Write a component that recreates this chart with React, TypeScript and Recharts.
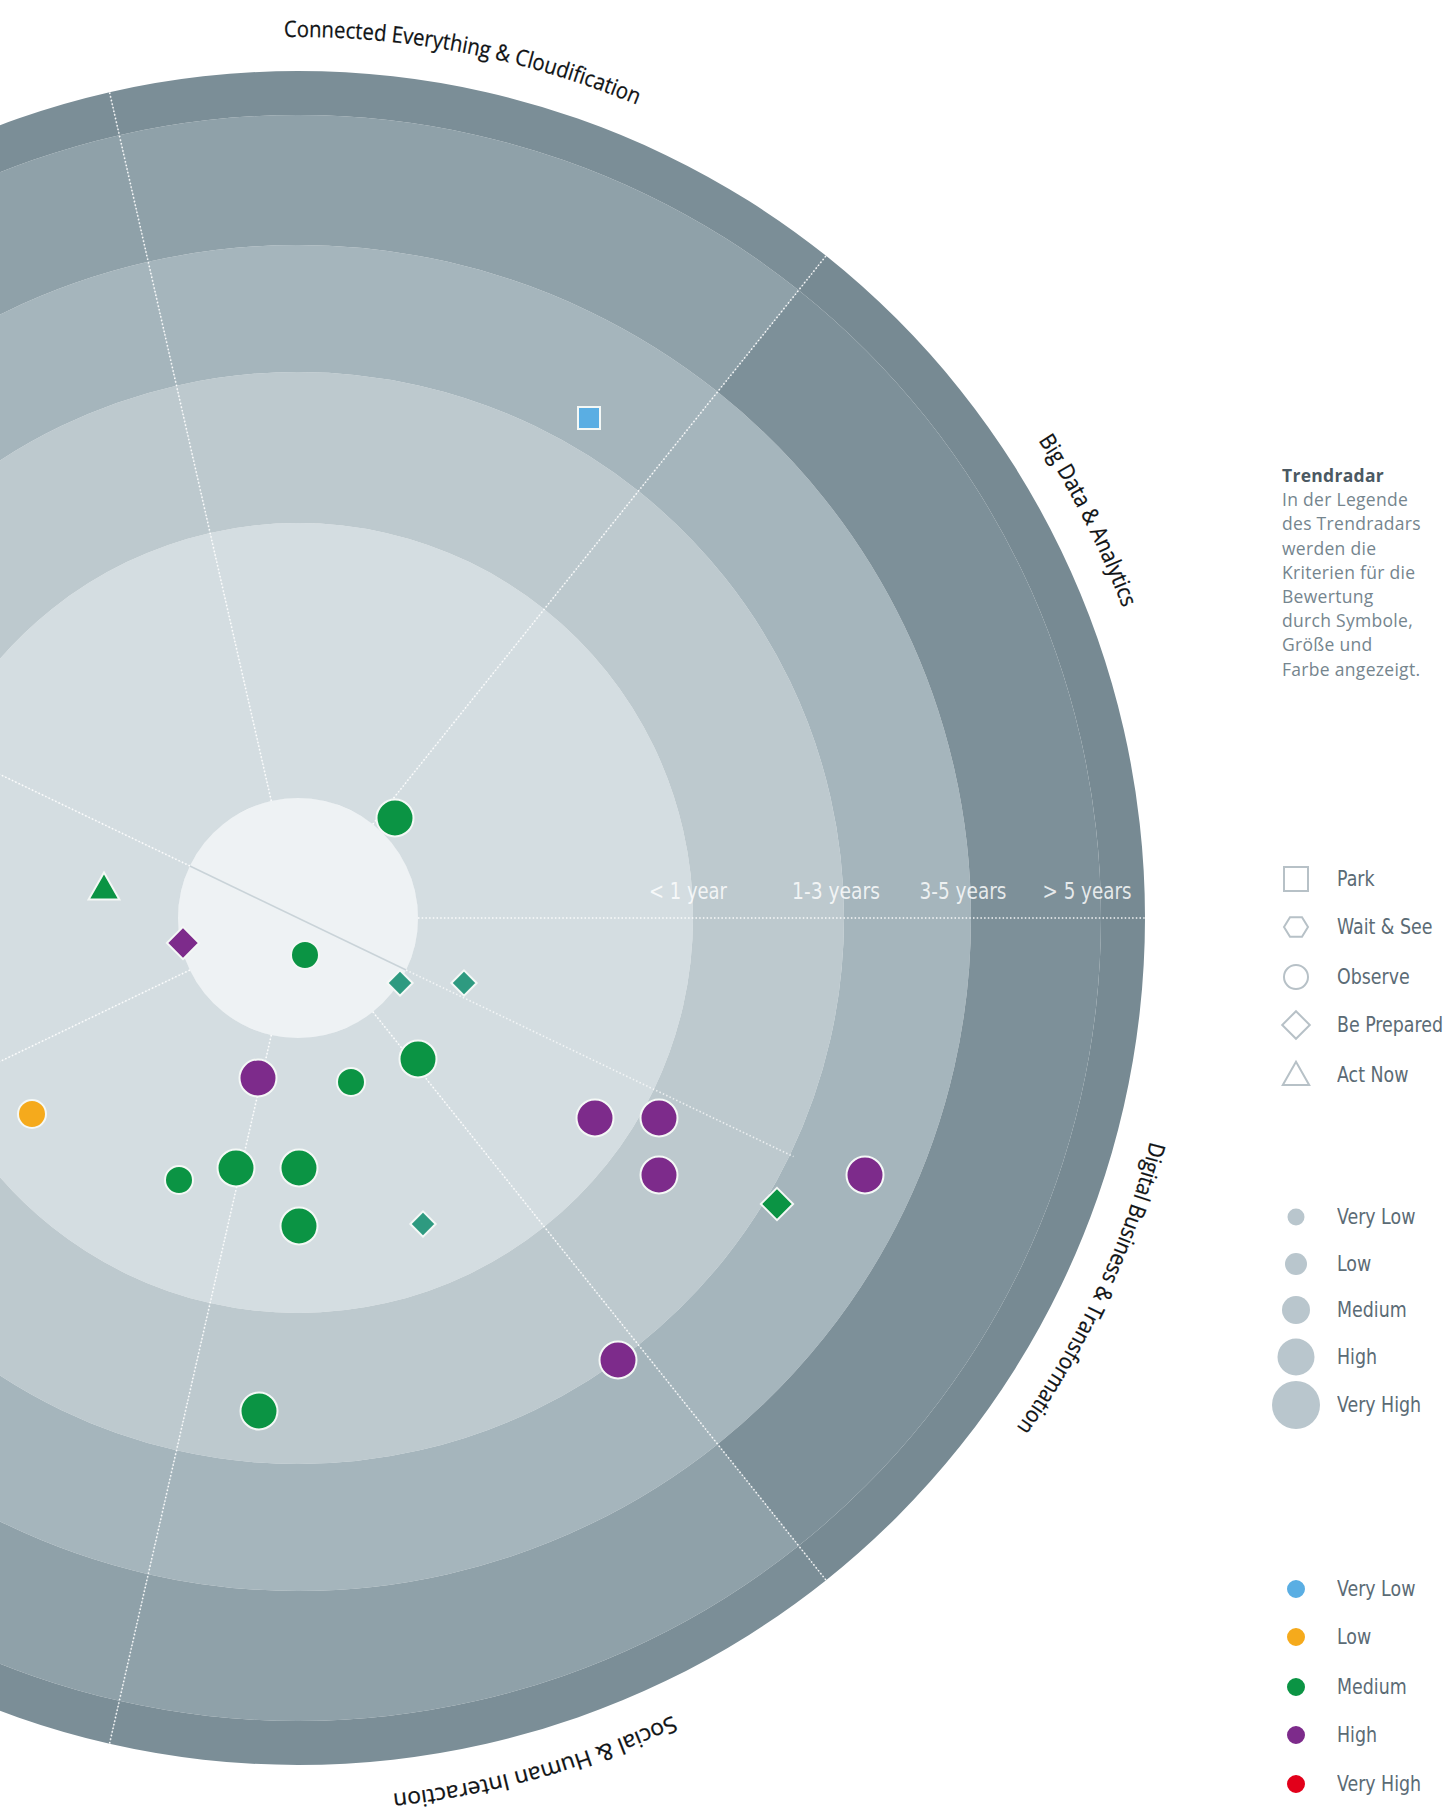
import React from 'react';
import { PieChart, Pie, Cell, ScatterChart, Scatter, XAxis, YAxis, ReferenceLine, ReferenceDot } from 'recharts';

// ---------- data ----------
const sectorNames = [
  'Big Data & Analytics',
  'Connected Everything & Cloudification',
  '',
  '',
  '',
  'Social & Human Interaction',
  'Digital Business & Transformation',
];
const horizonLabels = ['< 1 year', '1-3 years', '3-5 years', '> 5 years'];
const horizonLabelPos = [390, 538, 665, 789];

const shapeLegend = ['Park', 'Wait & See', 'Observe', 'Be Prepared', 'Act Now'];
const shapeKeys = ['square', 'hexagon', 'circle', 'diamond', 'triangle'];
const levelLabels = ['Very Low', 'Low', 'Medium', 'High', 'Very High'];

// trends: position relative to the radar centre (y up), shape = recommendation, size/color = level index
const trendX = [291, 97, -194, -115, 7, 102, 166, 120, 53, -40, -266, 297, 361, 361, 479, 567, -119, -62, 1, 1, 125, 320, -39];
const trendY = [500, 100, 30, -25, -37, -65, -65, -141, -164, -160, -196, -200, -200, -257, -286, -257, -262, -250, -250, -308, -306, -442, -493];
const trendShape = ['square', 'circle', 'triangle', 'diamond', 'circle', 'diamond', 'diamond', 'circle', 'circle', 'circle', 'circle', 'circle', 'circle', 'circle', 'diamond', 'circle', 'circle', 'circle', 'circle', 'circle', 'diamond', 'circle', 'circle'];
const trendSize = [1, 3, 2, 2, 2, 1, 1, 3, 2, 3, 2, 3, 3, 3, 2, 3, 2, 3, 3, 3, 1, 3, 3];
const trendColor = [0, 2, 2, 3, 2, 2, 2, 2, 2, 3, 1, 3, 3, 3, 2, 3, 2, 2, 2, 2, 2, 3, 2];
const trendMuted = [false, false, false, false, false, true, true, false, false, false, false, false, false, false, false, false, false, false, false, false, true, false, false];

// ---------- styles / layout ----------
const W = 1456;
const H = 1810;
const CX = 298;
const CY = 918;
const RAD = Math.PI / 180;
const RING_R = [120, 395, 546, 673, 803, 847];
const INNER_FILL = '#eef2f4';
const BAND_FILL = ['#d4dde1', '#bdc9ce', '#a5b5bc', '#8fa1a9', '#7b8e97'];
const BAND_FILL_RIGHT = ['#d4dde1', '#bdc9ce', '#a5b5bc', '#7d9099', '#778a93'];
const LEVEL_COLORS = ['#5aaee3', '#f5aa1c', '#0b9444', '#7d2b8b', '#e2001a'];
const MUTED_GREEN = '#2e9a80';
const LEVEL_DIAM = [17, 22, 28, 37, 48];
const NARROW = "'Liberation Sans Narrow', 'DejaVu Sans Condensed', 'Roboto', sans-serif";
// per-sector label tweaks (angle shift in degrees, text length in px)
const LABEL_SHIFT = [1, 2, 0, 0, 0, 2.8, 0.7];
const LABEL_LEN = [188, 362, 0, 0, 0, 292, 318];
const HORIZON_LEN = [78, 88, 87, 89];

const sectorData = sectorNames.map((name) => ({ name, value: 1 }));
const trends = trendX.map((x, i) => ({
  x,
  y: trendY[i],
  shape: trendShape[i],
  size: trendSize[i],
  color: trendColor[i],
  muted: trendMuted[i],
}));
const sectorAngles = sectorNames.map((_, i) => (360 / sectorNames.length) * i);

function polar(r: number, deg: number) {
  return { x: r * Math.cos(deg * RAD), y: r * Math.sin(deg * RAD) };
}

function symbolPath(shape: string, cx: number, cy: number, d: number) {
  const h = d / 2;
  if (shape === 'square') return `M${cx - h},${cy - h}H${cx + h}V${cy + h}H${cx - h}Z`;
  if (shape === 'diamond') {
    const k = h * 1.15;
    return `M${cx},${cy - k}L${cx + k},${cy}L${cx},${cy + k}L${cx - k},${cy}Z`;
  }
  if (shape === 'triangle') {
    const k = h * 1.1;
    return `M${cx},${cy - k}L${cx + k},${cy + k * 0.75}L${cx - k},${cy + k * 0.75}Z`;
  }
  if (shape === 'hexagon') {
    const pts = [0, 60, 120, 180, 240, 300].map((a) => `${cx + h * Math.cos(a * RAD)},${cy + h * 0.95 * Math.sin(a * RAD)}`);
    return `M${pts.join('L')}Z`;
  }
  return `M${cx - h},${cy}A${h},${h} 0 1 0 ${cx + h},${cy}A${h},${h} 0 1 0 ${cx - h},${cy}Z`;
}

const TrendShape = (props: any) => {
  const { cx, cy, payload } = props;
  if (cx == null || cy == null) return null;
  const d = LEVEL_DIAM[payload.size];
  const fill = payload.muted ? MUTED_GREEN : LEVEL_COLORS[payload.color];
  return <path d={symbolPath(payload.shape, cx, cy, d)} fill={fill} stroke="#f4f8f6" strokeWidth={2} />;
};

const renderSectorLabel = (props: any) => {
  const { cx, cy, midAngle, outerRadius, index } = props;
  const name = sectorNames[index];
  if (!name) return null;
  const r = outerRadius + 34;
  const mid = midAngle + LABEL_SHIFT[index];
  const a1 = (mid + 20) * RAD;
  const a2 = (mid - 20) * RAD;
  const p1x = cx + r * Math.cos(a1);
  const p1y = cy - r * Math.sin(a1);
  const p2x = cx + r * Math.cos(a2);
  const p2y = cy - r * Math.sin(a2);
  const id = `sector-arc-${index}`;
  return (
    <g key={id}>
      <path id={id} d={`M${p1x},${p1y}A${r},${r} 0 0 1 ${p2x},${p2y}`} fill="none" stroke="none" />
      <text fontSize={22.5} fill="#101315" fontFamily="'Open Sans', 'Noto Sans', sans-serif" stroke="#101315" strokeWidth={0.25}>
        <textPath href={`#${id}`} startOffset="50%" textAnchor="middle" textLength={LABEL_LEN[index]} lengthAdjust="spacingAndGlyphs">
          {name}
        </textPath>
      </text>
    </g>
  );
};

const horizonContent = (i: number) => (props: any) => {
  const vb = props.viewBox || {};
  const x = (vb.x ?? 0) + (vb.width ?? 0) / 2;
  const y = (vb.y ?? 0) + (vb.height ?? 0) / 2;
  return (
    <text
      x={x}
      y={y}
      textAnchor="middle"
      fontSize={23}
      fill="#ffffff"
      fillOpacity={0.82}
      fontFamily={NARROW}
      textLength={HORIZON_LEN[i]}
      lengthAdjust="spacingAndGlyphs"
    >
      {horizonLabels[i]}
    </text>
  );
};

const LegendIcon = ({ shape, d, fill, stroke }: { shape: string; d: number; fill: string; stroke?: string }) => (
  <svg width={52} height={52} style={{ position: 'absolute', left: -26, top: -26, overflow: 'visible' }}>
    <path d={symbolPath(shape, 26, 26, d)} fill={fill} stroke={stroke || 'none'} strokeWidth={stroke ? 2 : 0} />
  </svg>
);

const legendText: React.CSSProperties = {
  position: 'absolute',
  fontFamily: NARROW,
  fontSize: 22,
  color: '#5b6b75',
  whiteSpace: 'nowrap',
  lineHeight: '24px',
  transform: 'scaleX(0.88)',
  transformOrigin: 'left center',
};

const dotted = {
  stroke: '#ffffff',
  strokeOpacity: 0.9,
  strokeWidth: 1.6,
  strokeDasharray: '1.5 2.2',
};

export default function App() {
  const shapeRows = [879, 927, 977, 1025, 1075];
  const sizeRows = [1217, 1264, 1310, 1357, 1405];
  const colorRows = [1589, 1637, 1687, 1735, 1784];
  const introLines = [
    'In der Legende',
    'des Trendradars',
    'werden die',
    'Kriterien für die',
    'Bewertung',
    'durch Symbole,',
    'Größe und',
    'Farbe angezeigt.',
  ];
  return (
    <div style={{ position: 'absolute', left: 0, top: 0, width: W, height: H, overflow: 'hidden', background: '#ffffff' }}>
      <div style={{ position: 'absolute', left: 0, top: 0 }}>
        <PieChart width={W} height={H} margin={{ top: 0, right: 0, bottom: 0, left: 0 }}>
          <Pie data={[{ name: 'core', value: 1 }]} dataKey="value" cx={CX} cy={CY} innerRadius={0} outerRadius={RING_R[0]} stroke="none" isAnimationActive={false}>
            <Cell fill={INNER_FILL} />
          </Pie>
          {BAND_FILL.map((fill, b) => (
            <Pie
              key={`band-${b}`}
              data={sectorData}
              dataKey="value"
              nameKey="name"
              cx={CX}
              cy={CY}
              startAngle={0}
              endAngle={360}
              innerRadius={RING_R[b]}
              outerRadius={RING_R[b + 1]}
              stroke="none"
              isAnimationActive={false}
              label={b === BAND_FILL.length - 1 ? renderSectorLabel : false}
              labelLine={false}
            >
              {sectorData.map((_, s) => (
                <Cell key={s} fill={s === 0 || s === 6 ? BAND_FILL_RIGHT[b] : fill} />
              ))}
            </Pie>
          ))}
        </PieChart>
      </div>
      <div style={{ position: 'absolute', left: 0, top: 0 }}>
        <ScatterChart width={W} height={H} margin={{ top: 0, right: 0, bottom: 0, left: 0 }}>
          <XAxis type="number" dataKey="x" domain={[-CX, W - CX]} hide allowDataOverflow />
          <YAxis type="number" dataKey="y" domain={[CY - H, CY]} hide allowDataOverflow />
          {sectorAngles.map((a) => (
            <ReferenceLine key={`div-${a}`} segment={[polar(RING_R[0], a), polar(RING_R[5], a)]} {...dotted} ifOverflow="visible" />
          ))}
          <ReferenceLine
            segment={[polar(RING_R[0], sectorAngles[3]), polar(RING_R[0], sectorAngles[3] + 180)]}
            stroke="#c9d3d8"
            strokeWidth={1.6}
            ifOverflow="visible"
          />
          <ReferenceLine
            segment={[polar(RING_R[0], sectorAngles[3] + 180), polar(550, sectorAngles[3] + 180)]}
            {...dotted}
            strokeOpacity={0.7}
            ifOverflow="visible"
          />
          {horizonLabels.map((label, i) => (
            <ReferenceDot key={label} x={horizonLabelPos[i]} y={19} r={0} ifOverflow="visible" label={{ value: label, position: 'center', content: horizonContent(i) }} />
          ))}
          <Scatter data={trends} shape={<TrendShape />} isAnimationActive={false} />
        </ScatterChart>
      </div>

      {/* legend */}
      <div style={{ position: 'absolute', left: 1282, top: 463, fontFamily: "'Open Sans', 'Noto Sans', sans-serif", color: '#75858e', fontSize: 17.5, letterSpacing: 0.3, lineHeight: '24.2px' }}>
        <div style={{ fontWeight: 700, color: '#4b5962', fontSize: 17.5 }}>Trendradar</div>
        {introLines.map((l) => (
          <div key={l}>{l}</div>
        ))}
      </div>
      {shapeLegend.map((label, i) => (
        <div key={label} style={{ position: 'absolute', left: 1296, top: shapeRows[i] }}>
          <LegendIcon shape={shapeKeys[i]} d={24} fill="none" stroke="#b7c1c7" />
          <div style={{ ...legendText, left: 41, top: -12 }}>{label}</div>
        </div>
      ))}
      {levelLabels.map((label, i) => (
        <div key={`size-${label}`} style={{ position: 'absolute', left: 1296, top: sizeRows[i] }}>
          <LegendIcon shape="circle" d={LEVEL_DIAM[i]} fill="#b9c6cd" />
          <div style={{ ...legendText, left: 41, top: -12 }}>{label}</div>
        </div>
      ))}
      {levelLabels.map((label, i) => (
        <div key={`color-${label}`} style={{ position: 'absolute', left: 1296, top: colorRows[i] }}>
          <LegendIcon shape="circle" d={18} fill={LEVEL_COLORS[i]} />
          <div style={{ ...legendText, left: 41, top: -12 }}>{label}</div>
        </div>
      ))}
    </div>
  );
}
